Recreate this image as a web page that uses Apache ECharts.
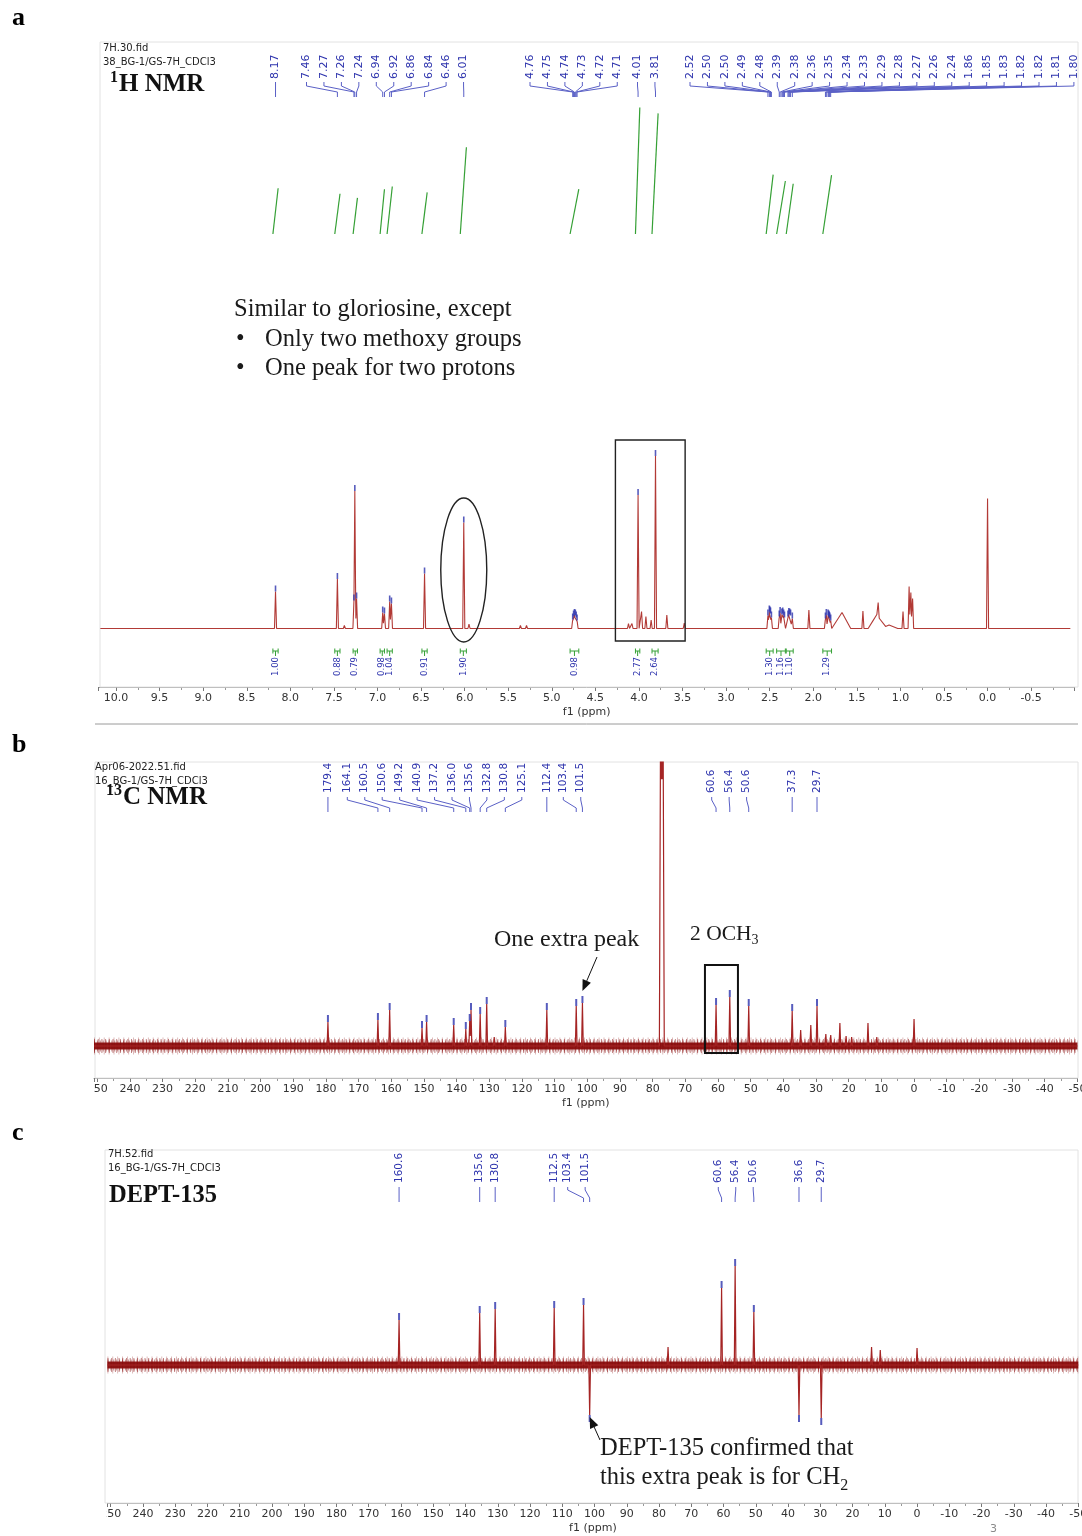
<!DOCTYPE html>
<html>
<head>
<meta charset="utf-8">
<script src="https://cdn.jsdelivr.net/npm/echarts@6/dist/echarts.min.js"></script>
<style>
  html, body { margin: 0; padding: 0; background: #fff; }
  #chart { width: 1082px; height: 1536px; }
</style>
</head>
<body>
<div id="chart"></div>
<script>
// ---------------- 1H NMR (CDCl3) ----------------
// sharp lines: [ppm, intensity (a.u.)]
const H_SHARP = [
  [8.17, 37], [7.89, 2], [7.46, 49.5], [7.38, 3], [7.27, 28], [7.26, 137.5], [7.24, 30],
  [6.94, 16], [6.92, 15], [6.86, 27], [6.84, 25], [6.46, 55], [6.01, 106], [5.95, 4.5],
  [5.36, 3], [5.29, 3],
  [4.76, 9], [4.75, 12], [4.74, 13.5], [4.73, 13], [4.72, 11], [4.71, 8],
  [4.12, 5], [4.08, 5], [4.01, 133.5], [3.97, 17], [3.92, 12], [3.86, 8.5], [3.81, 172.5],
  [3.68, 13.5], [3.48, 5.5],
  [2.52, 13], [2.504, 17], [2.497, 16], [2.49, 15], [2.48, 11],
  [2.39, 12], [2.38, 15.5], [2.36, 14], [2.35, 15], [2.34, 13], [2.33, 11],
  [2.29, 12], [2.28, 14.5], [2.27, 14], [2.26, 13], [2.24, 10],
  [2.05, 18.5],
  [1.86, 10], [1.85, 13.5], [1.83, 13], [1.822, 12], [1.817, 11], [1.81, 10], [1.80, 8],
  [1.43, 17.5], [1.30, 10], [1.255, 26], [0.97, 17], [0.90, 42], [0.88, 36], [0.86, 30],
  [0.00, 130]
];
// broad lines: [ppm, intensity (a.u.)]
const H_BROAD = [[1.67, 16], [1.27, 14], [1.13, 3.5]];
// picked peaks (shown as labels above the trace)
const H_PICKED = [
  8.17, 7.46, 7.27, 7.26, 7.24, 6.94, 6.92, 6.86, 6.84, 6.46, 6.01,
  4.76, 4.75, 4.74, 4.73, 4.72, 4.71, 4.01, 3.81,
  2.52, 2.504, 2.497, 2.49, 2.48, 2.39, 2.38, 2.36, 2.35, 2.34, 2.33,
  2.29, 2.28, 2.27, 2.26, 2.24, 1.86, 1.85, 1.83, 1.822, 1.817, 1.81, 1.80
];
// integrals: [from ppm, to ppm, value]
const H_INTEGRALS = [
  [8.20, 8.14, 1.00], [7.49, 7.43, 0.88], [7.28, 7.23, 0.79], [6.97, 6.92, 0.98],
  [6.89, 6.83, 1.04], [6.49, 6.43, 0.91], [6.05, 5.98, 1.90], [4.79, 4.69, 0.98],
  [4.04, 3.99, 2.77], [3.85, 3.78, 2.64], [2.54, 2.46, 1.30], [2.42, 2.32, 1.16],
  [2.31, 2.23, 1.10], [1.89, 1.79, 1.29]
];
const H_TICK_STEP = 0.5;

// ---------------- 13C NMR (CDCl3) ----------------
const C_PEAKS = [
  [179.4, 24], [164.1, 26], [160.5, 36], [150.6, 18], [149.2, 24], [140.9, 21], [137.2, 17],
  [136.0, 25], [135.6, 36], [132.8, 32], [130.8, 42], [128.5, 9], [125.1, 19], [112.4, 36],
  [103.4, 40], [101.5, 43],
  [60.6, 41], [56.4, 49], [50.6, 40], [37.3, 35], [34.7, 16], [31.6, 21], [29.7, 40],
  [27.0, 12], [25.5, 11], [22.7, 23], [20.8, 10], [19.1, 9], [14.1, 23], [11.4, 9], [0.0, 27]
];
// CDCl3 triplet, far off scale
const C_SOLVENT = [[77.5, 400], [77.2, 400], [76.9, 400]];
const C_PICKED = [
  179.4, 164.1, 160.5, 150.6, 149.2, 140.9, 137.2, 136.0, 135.6, 132.8, 130.8, 125.1,
  112.4, 103.4, 101.5, 60.6, 56.4, 50.6, 37.3, 29.7
];

// ---------------- DEPT-135 ----------------
const D_PEAKS = [
  [160.6, 45], [135.6, 52], [130.8, 56], [112.5, 57], [103.4, 60], [101.5, -50],
  [77.2, 18], [60.6, 77], [56.4, 99], [50.6, 53], [36.6, -50], [29.7, -53],
  [14.1, 18], [11.4, 15], [0.0, 17]
];
const D_PICKED = [160.6, 135.6, 130.8, 112.5, 103.4, 101.5, 60.6, 56.4, 50.6, 36.6, 29.7];
const C_TICK_STEP = 10;

// ---------------- styling / layout ----------------
const FONT_UI = '"DejaVu Sans", Verdana, sans-serif';
const FONT_SERIF = '"Liberation Serif", "Times New Roman", serif';
const BLUE = '#2d33ad';
const BLUE_LINE = '#5a60c6';
const GREEN = '#35a035';
const RED_H = '#b23a36';
const RED_C = '#a52424';
const NOISE = '#8a0c0c';
const PITCH = 17.45;

const LAYOUT = {
  a: { grid: 0, picked: H_PICKED, dec: 2, font: 11,
       runs: [[1, null], [10, 306.5], [6, 530], [2, 637.5], [23, 690]],
       textBottom: 79, conn: [82, 86, 92, 97] },
  b: { grid: 2, picked: C_PICKED, dec: 1, font: 10.5,
       runs: [[1, null], [11, 347.3], [1, null], [2, 563.3], [3, 711.7], [1, null], [1, null]],
       textBottom: 793, conn: [797, 800, 808, 812] },
  c: { grid: 3, picked: D_PICKED, dec: 1, font: 10.5,
       runs: [[1, null], [1, null], [1, null], [1, null], [2, 567.7], [3, 718.3], [1, null], [1, null]],
       textBottom: 1183, conn: [1187, 1190, 1198, 1202] }
};

// Piecewise-linear trace: every line is a narrow triangle, overlapping lines take the larger one.
function shapesOf(sharp, broad, wSharp, wBroad) {
  return sharp.map(([p, h]) => [p, h, wSharp]).concat(broad.map(([p, h]) => [p, h, wBroad]));
}
function valueAt(shapes, x) {
  let best = 0;
  shapes.forEach(([p, h, w]) => {
    const d = Math.abs(x - p);
    if (d < w) {
      const v = h * (1 - d / w);
      if (Math.abs(v) > Math.abs(best)) best = v;
    }
  });
  return best;
}
function traceOf(shapes, hi, lo) {
  const xs = new Set([hi, lo]);
  shapes.forEach(([p, h, w]) => { xs.add(p - w); xs.add(p); xs.add(p + w); });
  return [...xs].filter(x => x <= hi && x >= lo).sort((a, b) => b - a).map(x => [x, valueAt(shapes, x)]);
}

const H_SHAPES = shapesOf(H_SHARP, H_BROAD, 0.012, 0.1);
const C_SHAPES = shapesOf(C_PEAKS, C_SOLVENT, 0.25, 0.45);
const D_SHAPES = shapesOf(D_PEAKS, [], 0.25, 0.25);

function ppmAxis(gridIndex, min, max, step, decimals, visible, hideBelow) {
  return {
    type: 'value', gridIndex, inverse: true, min, max, interval: step, show: visible,
    position: 'bottom',
    name: 'f1 (ppm)', nameLocation: 'middle', nameGap: 20,
    nameTextStyle: { fontSize: 11, fontFamily: FONT_UI, color: '#333' },
    axisLine: { show: true, onZero: false, lineStyle: { color: '#9d9d9d', width: 1 } },
    axisTick: { show: true, length: 4, lineStyle: { color: '#777' } },
    minorTick: { show: true, splitNumber: 2, length: 3, lineStyle: { color: '#999' } },
    splitLine: { show: false },
    axisLabel: {
      fontSize: 11, fontFamily: FONT_UI, color: '#333', margin: 6,
      showMinLabel: true, showMaxLabel: true,
      formatter: v => {
        const k = v / step;
        if (Math.abs(k - Math.round(k)) > 1e-6) return '';
        if (hideBelow != null && v < hideBelow) return '';
        return v.toFixed(decimals);
      }
    }
  };
}
function hiddenY(gridIndex, min, max) {
  return { type: 'value', gridIndex, min, max, show: false, splitLine: { show: false } };
}
function markers(xi, shapes, picked, size) {
  return {
    type: 'scatter', xAxisIndex: xi, yAxisIndex: xi, silent: true, z: 4,
    symbol: 'rect', symbolSize: size,
    data: picked.map(p => {
      const v = valueAt(shapes, p);
      return { value: [p, v], symbolOffset: [0, v < 0 ? size[1] / 2 : -size[1] / 2] };
    }),
    itemStyle: { color: BLUE }
  };
}
// baseline noise of the carbon spectra, drawn as a textured band
function noiseBand(xi, hi, lo) {
  const base = [[hi, 0], [lo, 0]];
  const common = { type: 'line', xAxisIndex: xi, yAxisIndex: xi, data: base, symbol: 'none', silent: true, z: 2 };
  return [
    Object.assign({}, common, { lineStyle: { color: NOISE, width: 7, opacity: 0.95 } }),
    Object.assign({}, common, { lineStyle: { color: NOISE, width: 14, type: [1, 2.7], opacity: 0.5 } }),
    Object.assign({}, common, { lineStyle: { color: NOISE, width: 11, type: [1, 1.9], opacity: 0.5 } }),
    Object.assign({}, common, { lineStyle: { color: NOISE, width: 17, type: [0.8, 4.1], opacity: 0.35 } })
  ];
}

const option = {
  animation: false,
  backgroundColor: '#ffffff',
  grid: [
    { left: 98.6, top: 440, width: 976.1, height: 247, outerBoundsMode: 'none' },
    { left: 98.6, top: 40, width: 976.1, height: 194, outerBoundsMode: 'none' },
    { left: 94, top: 762, width: 983.4, height: 316, outerBoundsMode: 'none' },
    { left: 107.5, top: 1150, width: 970.8, height: 353, outerBoundsMode: 'none' }
  ],
  xAxis: [
    ppmAxis(0, -1.0, 10.2, H_TICK_STEP, 1, true, -0.75),
    ppmAxis(1, -1.0, 10.2, H_TICK_STEP, 1, false, null),
    ppmAxis(2, -50, 251, C_TICK_STEP, 0, true, null),
    ppmAxis(3, -50, 251, C_TICK_STEP, 0, true, null)
  ],
  yAxis: [
    hiddenY(0, -58.5, 188.5),
    hiddenY(1, 0, 194 / 45.7),
    hiddenY(2, -32, 284),
    hiddenY(3, -138, 215)
  ],
  series: [
    { type: 'line', xAxisIndex: 0, yAxisIndex: 0, data: traceOf(H_SHAPES, 10.18, -0.95),
      symbol: 'none', silent: true, clip: true, z: 3, lineStyle: { color: RED_H, width: 1.1 } },
    markers(0, H_SHAPES, H_PICKED, [1.6, 6]),
    { type: 'lines', coordinateSystem: 'cartesian2d', xAxisIndex: 1, yAxisIndex: 1, silent: true,
      data: H_INTEGRALS.map(([f, t, v]) => ({ coords: [[f, 0], [t, v]] })),
      lineStyle: { color: GREEN, width: 1.2, opacity: 1 } },
    ...noiseBand(2, 251, -50),
    { type: 'line', xAxisIndex: 2, yAxisIndex: 2, data: traceOf(C_SHAPES, 251, -50),
      symbol: 'none', silent: true, clip: true, z: 3, lineStyle: { color: RED_C, width: 1.2 } },
    markers(2, C_SHAPES, C_PICKED, [2, 7]),
    ...noiseBand(3, 251, -50),
    { type: 'line', xAxisIndex: 3, yAxisIndex: 3, data: traceOf(D_SHAPES, 251, -50),
      symbol: 'none', silent: true, clip: true, z: 3, lineStyle: { color: RED_C, width: 1.2 } },
    markers(3, D_SHAPES, D_PICKED, [2, 7])
  ]
};

const chart = echarts.init(document.getElementById('chart'), null, { renderer: 'canvas' });
chart.setOption(option);

// ---------- overlay: frames, titles, peak labels, annotations ----------
const px = (g, ppm) => chart.convertToPixel({ gridIndex: g }, [ppm, 0])[0];
const measure = (() => {
  const ctx = document.createElement('canvas').getContext('2d');
  return (text, font) => { ctx.font = font; return ctx.measureText(text).width; };
})();

function text(x, y, str, font, fill, extra) {
  return Object.assign({
    type: 'text', x, y, z: 10, silent: true,
    style: { text: str, font, fill: fill || '#111', align: 'left', verticalAlign: 'middle',
             textAlign: 'left', textVerticalAlign: 'middle' }
  }, extra || {});
}
function rotText(x, y, str, font, fill, align) {
  return {
    type: 'text', x, y, rotation: Math.PI / 2, z: 10, silent: true,
    style: { text: str, font, fill, align, verticalAlign: 'middle', textAlign: align, textVerticalAlign: 'middle' }
  };
}
function seg(x1, y1, x2, y2, stroke, w) {
  return { type: 'line', z: 10, silent: true, shape: { x1, y1, x2, y2 }, style: { stroke, lineWidth: w || 1 } };
}
function box(x, y, w, h, stroke, lw, z) {
  return { type: 'rect', z: z || 1, silent: true, shape: { x, y, width: w, height: h },
           style: { fill: 'none', stroke, lineWidth: lw } };
}
function arrow(x1, y1, x2, y2) {
  const a = Math.atan2(y2 - y1, x2 - x1), L = 11, W = 4.5;
  const bx = x2 - L * Math.cos(a), by = y2 - L * Math.sin(a);
  const nx = -Math.sin(a), ny = Math.cos(a);
  return [
    seg(x1, y1, bx, by, '#111', 1),
    { type: 'polygon', z: 10, silent: true,
      shape: { points: [[x2, y2], [bx + nx * W, by + ny * W], [bx - nx * W, by - ny * W]] },
      style: { fill: '#111' } }
  ];
}
function peakLabels(cfg) {
  const els = [];
  let k = 0;
  cfg.runs.forEach(([n, start]) => {
    const xs = [];
    for (let i = 0; i < n; i++) xs.push(px(cfg.grid, cfg.picked[k + i]));
    let s0 = start;
    if (s0 == null) s0 = xs.reduce((a, b) => a + b, 0) / n - (n - 1) * PITCH / 2;
    for (let i = 0; i < n; i++) {
      const lx = s0 + i * PITCH;
      const c = cfg.conn;
      els.push(rotText(lx, cfg.textBottom, cfg.picked[k + i].toFixed(cfg.dec),
                       cfg.font + 'px ' + FONT_UI, BLUE, 'left'));
      els.push({ type: 'polyline', z: 10, silent: true,
                 shape: { points: [[lx, c[0]], [lx, c[1]], [xs[i], c[2]], [xs[i], c[3]]] },
                 style: { stroke: BLUE_LINE, lineWidth: 1, fill: 'none' } });
    }
    k += n;
  });
  return els;
}
function integralLabels() {
  const els = [];
  H_INTEGRALS.forEach(([f, t, v]) => {
    const x1 = px(0, f), x2 = px(0, t), cx = (x1 + x2) / 2;
    els.push(seg(x1, 651, x2, 651, GREEN, 1));
    els.push(seg(x1, 648.5, x1, 653.5, GREEN, 1));
    els.push(seg(x2, 648.5, x2, 653.5, GREEN, 1));
    els.push(seg(cx, 651, cx, 656, GREEN, 1));
    els.push(rotText(cx, 657, v.toFixed(2), '8.5px ' + FONT_UI, BLUE, 'right'));
  });
  return els;
}
function titleWithSup(x, y, sup, main, size) {
  const supFont = 'bold ' + Math.round(size * 0.62) + 'px ' + FONT_SERIF;
  const mainFont = 'bold ' + size + 'px ' + FONT_SERIF;
  const w = sup ? measure(sup, supFont) : 0;
  const els = [];
  if (sup) els.push(text(x, y - size * 0.3, sup, supFont, '#111'));
  els.push(text(x + w + (sup ? 1 : 0), y, main, mainFont, '#111'));
  return els;
}
function withSub(x, y, main, sub, size) {
  const font = size + 'px ' + FONT_SERIF;
  const w = measure(main, font);
  return [text(x, y, main, font, '#1a1a1a'),
          text(x + w, y + size * 0.3, sub, Math.round(size * 0.65) + 'px ' + FONT_SERIF, '#1a1a1a')];
}

function overlay() {
  const els = [];
  const serifAnno = '24.5px ' + FONT_SERIF;
  const small = '10px ' + FONT_UI;

  // frames and divider
  els.push(box(100, 42, 978, 645, '#e2e2e2', 1));
  els.push(box(95, 762, 983, 316, '#e2e2e2', 1));
  els.push(box(105, 1150, 973, 353, '#e2e2e2', 1));
  els.push(seg(95, 724, 1078, 724, '#9a9a9a', 1));

  // panel letters
  els.push(text(12, 18, 'a', 'bold 26px ' + FONT_SERIF, '#000'));
  els.push(text(12, 745, 'b', 'bold 26px ' + FONT_SERIF, '#000'));
  els.push(text(12, 1133, 'c', 'bold 26px ' + FONT_SERIF, '#000'));

  // acquisition headers
  els.push(text(103, 48, '7H.30.fid', small, '#222'));
  els.push(text(103, 62, '38_BG-1/GS-7H_CDCl3', small, '#222'));
  els.push(...titleWithSup(110, 85, '1', 'H NMR', 25));
  els.push(text(95, 767, 'Apr06-2022.51.fid', small, '#222'));
  els.push(text(95, 781, '16_BG-1/GS-7H_CDCl3', small, '#222'));
  els.push(...titleWithSup(106, 798, '13', 'C NMR', 25));
  els.push(text(108, 1154, '7H.52.fid', small, '#222'));
  els.push(text(108, 1168, '16_BG-1/GS-7H_CDCl3', small, '#222'));
  els.push(...titleWithSup(109, 1196, null, 'DEPT-135', 24.5));

  // peak labels and integrals
  els.push(...peakLabels(LAYOUT.a), ...peakLabels(LAYOUT.b), ...peakLabels(LAYOUT.c));
  els.push(...integralLabels());

  // panel a notes
  els.push(text(234, 310, 'Similar to gloriosine, except', serifAnno, '#1a1a1a'));
  els.push(text(236, 340, '\u2022', serifAnno, '#1a1a1a'));
  els.push(text(265, 340, 'Only two methoxy groups', serifAnno, '#1a1a1a'));
  els.push(text(236, 369, '\u2022', serifAnno, '#1a1a1a'));
  els.push(text(265, 369, 'One peak for two protons', serifAnno, '#1a1a1a'));
  els.push({ type: 'ellipse', z: 10, silent: true,
             shape: { cx: px(0, 6.01), cy: 570, rx: 23, ry: 72 },
             style: { fill: 'none', stroke: '#222', lineWidth: 1.4 } });
  const ax1 = px(0, 4.27), ax2 = px(0, 3.47);
  els.push(box(ax1, 440, ax2 - ax1, 201, '#222', 1.4, 10));

  // panel b notes
  els.push(text(494, 940, 'One extra peak', '24px ' + FONT_SERIF, '#1a1a1a'));
  els.push(...arrow(597, 957, px(2, 101.5), 991));
  els.push(...withSub(690, 934, '2 OCH', '3', 21.5));
  const bx1 = px(2, 64.0), bx2 = px(2, 53.9);
  els.push(box(bx1, 965, bx2 - bx1, 88, '#111', 2, 10));

  // panel c notes
  els.push(...arrow(600, 1440, px(3, 101.5), 1417));
  els.push(text(600, 1449, 'DEPT-135 confirmed that', '24.5px ' + FONT_SERIF, '#1a1a1a'));
  els.push(...withSub(600, 1478, 'this extra peak is for CH', '2', 24.5));
  els.push(text(990, 1529, '3', '11px ' + FONT_UI, '#8a8a8a'));

  // the figure is trimmed at its left edge below panels b and c
  els.push({ type: 'rect', z: 100, silent: true, shape: { x: 0, y: 1081, width: 94, height: 20 }, style: { fill: '#fff' } });
  els.push({ type: 'rect', z: 100, silent: true, shape: { x: 0, y: 1506, width: 106, height: 20 }, style: { fill: '#fff' } });

  return els;
}

chart.setOption({ graphic: { elements: overlay() } });
</script>
</body>
</html>
